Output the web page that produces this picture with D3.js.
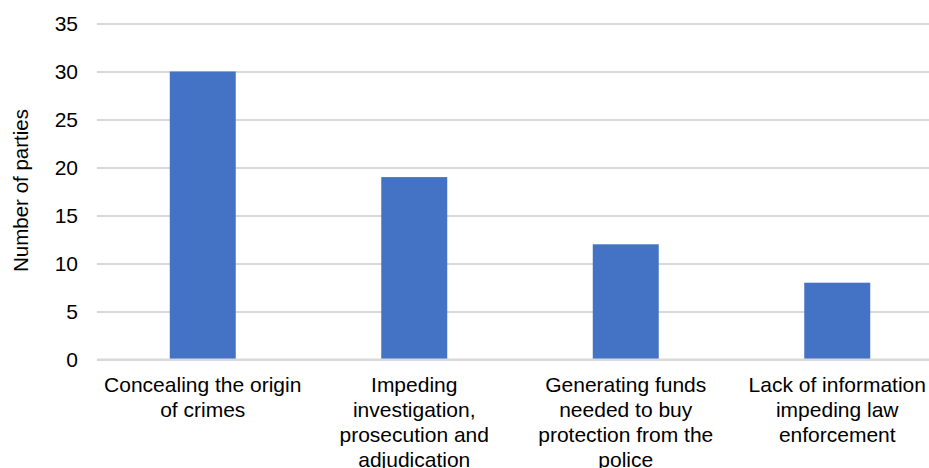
<!DOCTYPE html>
<html>
<head>
<meta charset="utf-8">
<script src="https://cdn.jsdelivr.net/npm/d3@7"></script>
<style>
  html, body { margin: 0; padding: 0; background: #fff; }
  svg { display: block; font-family: "Liberation Sans", Arial, sans-serif; }
</style>
</head>
<body>
<svg id="chart" width="929" height="468"></svg>
<script>
// Reasons cited and how many parties cited each
const categories = [
  "Concealing the origin of crimes",
  "Impeding investigation, prosecution and adjudication",
  "Generating funds needed to buy protection from the police",
  "Lack of information impeding law enforcement"
];
const values = [30, 19, 12, 8];
const yTicks = [0, 5, 10, 15, 20, 25, 30, 35];
const yTitle = "Number of parties";

const svg = d3.select("#chart");

// Plot area (right edge runs past the visible canvas)
const x0 = 97, x1 = 943, yTop = 23.5, yBottom = 359.5;

const x = d3.scaleBand().domain(categories).range([x0, x1]).paddingInner(0.688).paddingOuter(0.344);
const y = d3.scaleLinear().domain([0, 35]).range([yBottom, yTop]);

// Horizontal gridlines
const gy = svg.append("g")
  .attr("transform", `translate(${x0},0)`)
  .call(d3.axisLeft(y).tickValues(yTicks).tickSize(-(x1 - x0)).tickFormat(d => d).tickPadding(19));
gy.select(".domain").remove();
gy.selectAll(".tick line").attr("stroke", "#d9d9d9").attr("stroke-width", 2);
gy.selectAll(".tick text")
  .attr("fill", "#000")
  .attr("font-size", 21)
  .attr("font-family", "\"Liberation Sans\", Arial, sans-serif");

// Bars
svg.append("g").selectAll("rect")
  .data(values)
  .join("rect")
  .attr("x", (d, i) => x(categories[i]))
  .attr("width", x.bandwidth())
  .attr("y", d => y(d))
  .attr("height", d => y(0) - y(d))
  .attr("fill", "#4472c4");

// Baseline drawn over bars
svg.append("line")
  .attr("x1", x0).attr("x2", x1)
  .attr("y1", y(0)).attr("y2", y(0))
  .attr("stroke", "#d9d9d9").attr("stroke-width", 2);

// Category labels, wrapped to fit their band
const maxW = 206, lineH = 25;
const measure = svg.append("text").attr("font-size", 21).attr("visibility", "hidden");
function wrap(str) {
  const words = str.split(" ");
  const lines = [];
  let cur = "";
  for (const w of words) {
    const test = cur ? cur + " " + w : w;
    measure.text(test);
    if (cur && measure.node().getComputedTextLength() > maxW) {
      lines.push(cur);
      cur = w;
    } else {
      cur = test;
    }
  }
  if (cur) lines.push(cur);
  return lines;
}

const labels = svg.append("g").selectAll("text")
  .data(categories)
  .join("text")
  .attr("text-anchor", "middle")
  .attr("font-size", 21)
  .attr("fill", "#000")
  .attr("x", d => x(d) + x.bandwidth() / 2)
  .attr("y", 392);
labels.each(function(d) {
  const t = d3.select(this);
  const cx = x(d) + x.bandwidth() / 2;
  wrap(d).forEach((ln, i) => {
    t.append("tspan").attr("x", cx).attr("dy", i === 0 ? 0 : lineH).text(ln);
  });
});
measure.remove();

// Y axis title
svg.append("text")
  .attr("transform", `translate(28, ${(yTop + yBottom) / 2 - 1}) rotate(-90)`)
  .attr("text-anchor", "middle")
  .attr("font-size", 20.5)
  .attr("fill", "#000")
  .text(yTitle);
</script>
</body>
</html>
